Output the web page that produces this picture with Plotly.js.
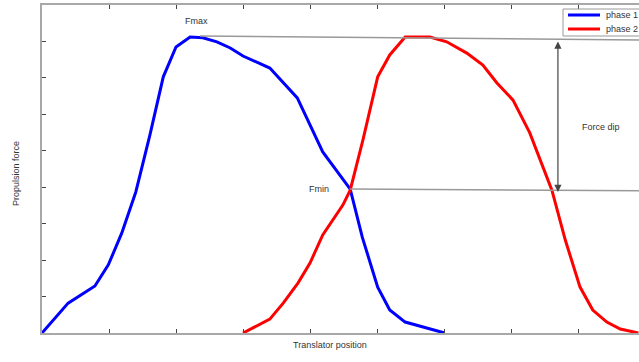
<!DOCTYPE html>
<html>
<head>
<meta charset="utf-8">
<script src="https://cdn.plot.ly/plotly-3.0.1.min.js"></script>
<style>html,body{margin:0;padding:0;background:#fff;}#chart{width:639px;height:362px;}</style>
</head>
<body>
<div id="chart"></div>
<script>
// Phase 1 (blue) — translator position vs propulsion force
const phase1X = [0, 0.39, 0.79, 0.99, 1.19, 1.40, 1.61, 1.81, 2.0, 2.21, 2.40, 2.61, 2.81, 3.0, 3.40, 3.81, 4.19, 4.60, 4.78, 5.01, 5.19, 5.42, 6.01];
const phase1Y = [0, 0.82, 1.29, 1.87, 2.74, 3.87, 5.43, 7.03, 7.85, 8.12, 8.10, 7.99, 7.82, 7.60, 7.27, 6.45, 4.97, 3.95, 2.63, 1.26, 0.63, 0.30, 0];
// Phase 2 (red)
const phase2X = [3.0, 3.40, 3.60, 3.82, 4.0, 4.19, 4.49, 4.60, 4.79, 5.01, 5.19, 5.42, 5.79, 6.04, 6.34, 6.58, 6.79, 7.03, 7.28, 7.61, 7.81, 8.03, 8.22, 8.43, 8.63, 8.90];
const phase2Y = [0, 0.38, 0.82, 1.37, 1.92, 2.69, 3.51, 3.92, 5.30, 7.03, 7.63, 8.12, 8.12, 7.99, 7.68, 7.35, 6.86, 6.39, 5.49, 3.92, 2.55, 1.26, 0.63, 0.30, 0.11, 0];
const seriesNames = ["phase 1", "phase 2"];
const seriesColors = ["#0000ff", "#ff0000"];
const xTicks = [0, 1, 2, 3, 4, 5, 6, 7, 8];
const yTicks = [0, 1, 2, 3, 4, 5, 6, 7, 8, 9];

const font = "Liberation Sans, Arial, sans-serif";
const traces = [
  {x: phase1X, y: phase1Y, name: seriesNames[0], mode: "lines", line: {color: seriesColors[0], width: 3}},
  {x: phase2X, y: phase2Y, name: seriesNames[1], mode: "lines", line: {color: seriesColors[1], width: 3}}
];

const axisCommon = {
  showgrid: false, zeroline: false, showline: true, linecolor: "#a8a8a8", linewidth: 2,
  ticks: "inside", ticklen: 4, tickcolor: "#444", tickwidth: 1, showticklabels: false
};

// pixel -> paper helpers (plot area: left 42, right 639, top 5, bottom 333)
const px = v => (v - 42) / 597;
const py = v => (333 - v) / 328;

const shapes = [
  {type: "line", xref: "x", yref: "y", x0: 2.36, y0: 8.15, x1: 8.91, y1: 8.04, line: {color: "#999", width: 1.5}},
  {type: "line", xref: "x", yref: "y", x0: 4.60, y0: 3.95, x1: 8.91, y1: 3.90, line: {color: "#999", width: 1.5}},
  // legend box
  {type: "rect", xref: "paper", yref: "paper", x0: px(563), x1: px(660), y0: py(36), y1: py(9),
   line: {color: "#999", width: 1}, fillcolor: "#fff", layer: "above"}
];
const annotations = [
  {x: 7.70, y: 3.87, ax: 7.70, ay: 8.04, xref: "x", yref: "y", axref: "x", ayref: "y",
   text: "", showarrow: true, arrowhead: 2, arrowside: "end+start", arrowsize: 1.2, arrowwidth: 1.2, arrowcolor: "#444"},
  {x: 2.30, y: 8.56, xref: "x", yref: "y", text: "Fmax", showarrow: false, font: {family: font, size: 9, color: "#333"}},
  {x: 4.13, y: 3.95, xref: "x", yref: "y", text: "Fmin", showarrow: false, font: {family: font, size: 9, color: "#333"}},
  {x: 8.34, y: 5.65, xref: "x", yref: "y", text: "Force dip", showarrow: false, font: {family: font, size: 9, color: "#333"}},
  {x: px(330), y: py(352), xref: "paper", yref: "paper", text: "Translator position", showarrow: false,
   font: {family: font, size: 9, color: "#333"}},
  {x: px(9), y: py(174), xref: "paper", yref: "paper", text: "Propulsion force", textangle: -90,
   showarrow: false, font: {family: font, size: 9, color: "#333"}}
];
// legend entries
seriesNames.forEach((name, i) => {
  const rowY = 15 + i * 14;
  shapes.push({type: "line", xref: "paper", yref: "paper", x0: px(568), x1: px(600), y0: py(rowY), y1: py(rowY),
               line: {color: seriesColors[i], width: 3}, layer: "above"});
  annotations.push({x: px(604), y: py(rowY), xref: "paper", yref: "paper", xanchor: "left", yanchor: "middle",
                    text: name, showarrow: false, font: {family: font, size: 9, color: "#333"}});
});

const layout = {
  width: 639, height: 362,
  margin: {l: 42, r: 0, t: 5, b: 29, autoexpand: false},
  paper_bgcolor: "#fff", plot_bgcolor: "#fff",
  font: {family: font, size: 9, color: "#333"},
  xaxis: Object.assign({}, axisCommon, {range: [0, 8.91], tickvals: xTicks, mirror: "ticks"}),
  yaxis: Object.assign({}, axisCommon, {range: [0, 9], tickvals: yTicks, mirror: false}),
  showlegend: false,
  shapes: shapes,
  annotations: annotations
};

Plotly.newPlot("chart", traces, layout, {staticPlot: true, displayModeBar: false});
</script>
</body>
</html>
